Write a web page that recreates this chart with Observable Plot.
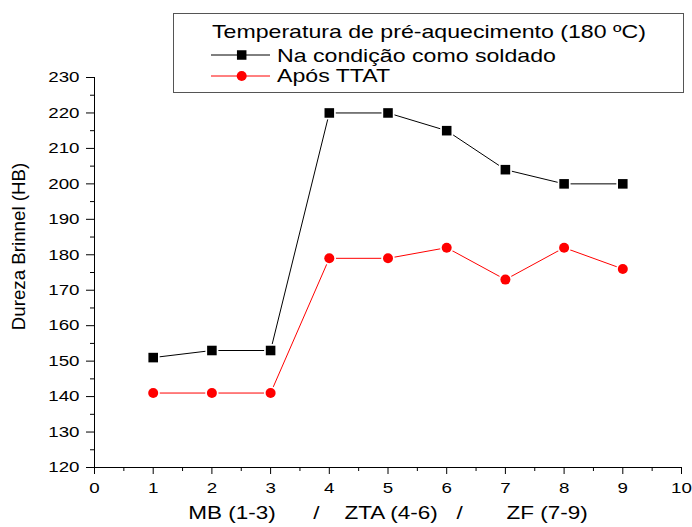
<!DOCTYPE html>
<html><head><meta charset="utf-8">
<script src="https://cdn.jsdelivr.net/npm/d3@7"></script>
<script src="https://cdn.jsdelivr.net/npm/@observablehq/plot@0.6"></script>
<style>html,body{margin:0;padding:0;background:#fff}</style>
</head><body><div id="chart"></div>
<script>
// ---- data ----
const positions = [1, 2, 3, 4, 5, 6, 7, 8, 9];
const asWelded = [151, 153, 153, 220, 220, 215, 204, 200, 200];
const afterPWHT = [141, 141, 141, 179, 179, 182, 173, 182, 176];
const seriesNames = ["Na condição como soldado", "Após TTAT"];
const seriesColors = ["#000000", "#ff0000"];
const legendTitle = "Temperatura de pré-aquecimento (180 ºC)";
const yLabel = "Dureza Brinnel (HB)";
const xLabelParts = ["MB (1-3)", "/", "ZTA (4-6)", "/", "ZF (7-9)"];
const xMajor = [0, 1, 2, 3, 4, 5, 6, 7, 8, 9, 10];
const xMinor = [0.5, 1.5, 2.5, 3.5, 4.5, 5.5, 6.5, 7.5, 8.5, 9.5];
const yMajor = [120, 130, 140, 150, 160, 170, 180, 190, 200, 210, 220, 230];
const yMinor = [125, 135, 145, 155, 165, 175, 185, 195, 205, 215, 225];

// ---- build ----
const rowsA = positions.map((x, i) => ({x, y: asWelded[i], s: seriesNames[0]}));
const rowsB = positions.map((x, i) => ({x, y: afterPWHT[i], s: seriesNames[1]}));
const rows = rowsA.concat(rowsB);
const gaps = [6, 4, 3, 7];
const NB = "\u00A0";
let xLabel = xLabelParts[0];
for (let i = 1; i < xLabelParts.length; i++) xLabel += NB.repeat(gaps[i - 1]) + xLabelParts[i];

const font = '"Liberation Sans", Arial, sans-serif';
const chart = Plot.plot({
  width: 692, height: 527,
  marginLeft: 94, marginRight: 11, marginTop: 77, marginBottom: 60,
  style: {fontFamily: font, fontSize: "15px", color: "#000", background: "#fff", overflow: "visible"},
  x: {domain: [0, 10], axis: null},
  y: {domain: [120, 230], axis: null},
  color: {domain: seriesNames, range: seriesColors},
  marks: [
    Plot.ruleX([0], {stroke: "#000"}),
    Plot.ruleY([120], {stroke: "#000"}),
    Plot.axisX({ticks: xMajor, tickSize: 7, tickPadding: 8, tickFormat: d3.format("d"), label: null, stroke: "#000", fill: "#000"}),
    Plot.axisX({ticks: xMinor, tickSize: 4, fill: "none", label: null, stroke: "#000"}),
    Plot.axisY({ticks: yMajor, tickSize: 8, tickPadding: 7, tickFormat: d3.format("d"), label: null, stroke: "#000", fill: "#000"}),
    Plot.axisY({ticks: yMinor, tickSize: 4, fill: "none", label: null, stroke: "#000"}),
    Plot.line(rows, {x: "x", y: "y", z: "s", stroke: "s", strokeWidth: 1}),
    Plot.dot(rowsA, {x: "x", y: "y", symbol: "square", r: 7.3, fill: "#fff", stroke: "none"}),
    Plot.dot(rowsB, {x: "x", y: "y", symbol: "circle", r: 6.7, fill: "#fff", stroke: "none"}),
    Plot.dot(rowsA, {x: "x", y: "y", symbol: "square", r: 5.4, fill: "s", stroke: "none"}),
    Plot.dot(rowsB, {x: "x", y: "y", symbol: "circle", r: 5, fill: "s", stroke: "none"}),
    Plot.text([yLabel], {text: d => d, frameAnchor: "left", textAnchor: "middle", lineAnchor: "middle", rotate: -90, dx: -75, dy: -26, fontSize: 18, fill: "#000"}),
    Plot.text([xLabel], {text: d => d, frameAnchor: "bottom", textAnchor: "middle", dy: 51, fontSize: 18, fill: "#000"})
  ]
});

// horizontal stretch of the text, as in the reference rendering
function stretch(t, s) {
  const tr = t.getAttribute("transform");
  if (tr) t.setAttribute("transform", tr + ` scale(${s},1)`);
  else {
    const x = +(t.getAttribute("x") || 0), y = +(t.getAttribute("y") || 0);
    t.setAttribute("transform", `translate(${x},${y}) scale(${s},1) translate(${-x},${-y})`);
  }
}
chart.querySelectorAll("text").forEach(t => {
  stretch(t, t.textContent === yLabel ? 1.04 : 1.25);
});

// ---- legend ----
const svg = d3.select(chart);
const lg = svg.append("g").attr("font-family", font).attr("font-size", 18.5)
  .attr("fill", "#000").attr("text-anchor", "start");
lg.append("rect").attr("x", 173.5).attr("y", 13.5).attr("width", 510).attr("height", 79)
  .attr("fill", "#fff").attr("stroke", "#555").attr("stroke-width", 1);
lg.append("text").attr("text-anchor", "start").attr("transform", "translate(212,37.7) scale(1.25,1)").text(legendTitle);
const rowY = [55, 76];
const baseY = [61.7, 81.7];
seriesNames.forEach((name, i) => {
  lg.append("line").attr("x1", 211).attr("x2", 270).attr("y1", rowY[i]).attr("y2", rowY[i])
    .attr("stroke", seriesColors[i]).attr("stroke-width", 1);
  if (i === 0) lg.append("rect").attr("x", 241.7 - 4.75).attr("y", rowY[i] - 4.75).attr("width", 9.5).attr("height", 9.5).attr("fill", seriesColors[i]);
  else lg.append("circle").attr("cx", 241.7).attr("cy", rowY[i]).attr("r", 5).attr("fill", seriesColors[i]);
  lg.append("text").attr("text-anchor", "start").attr("transform", `translate(277,${baseY[i]}) scale(1.25,1)`).text(name);
});

document.getElementById("chart").appendChild(chart);
</script>
</body></html>
